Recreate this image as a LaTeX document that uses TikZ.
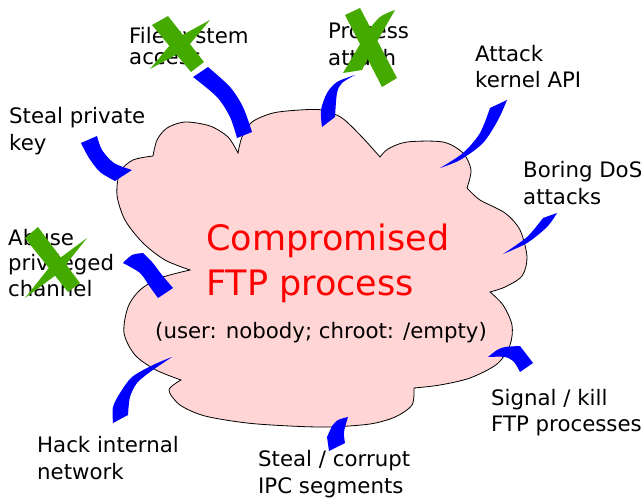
\documentclass[tikz,border=0pt]{standalone}
\usepackage{fontspec}
\setmainfont{DejaVu Sans}
\definecolor{cloudpink}{HTML}{FFD5D5}
\definecolor{crossgreen}{HTML}{44AA00}
\begin{document}
\begin{tikzpicture}[x=1pt,y=-1pt,
  % anchored at the baseline of the last line
  lbl/.style={anchor=base west, inner sep=0pt, align=left,
              font=\fontsize{21.3}{26.5}\selectfont},
  brush/.style={fill=blue},
  cross/.style={fill=crossgreen},
  cloudline/.style={draw=black, line width=0.8pt, fill=cloudpink}
]
\useasboundingbox (0,0) rectangle (644,498);

% the cloud: smooth lobes joined at cusps
\path[cloudline]
  plot[smooth] coordinates {(190,270) (165,260) (143,243) (125,220) (117,195) (120,172) (133,160) (153,156)}
  -- plot[smooth] coordinates {(153,156) (157,140) (167,128) (185,122) (210,126) (228,137) (238,153)}
  -- plot[smooth] coordinates {(238,153) (242,137) (252,122) (273,113) (300,110) (322,110) (342,118) (362,137) (380,157)}
  -- plot[smooth] coordinates {(380,157) (388,149) (407,142) (443,142) (463,153) (471,170) (467,188)}
  -- plot[smooth] coordinates {(467,188) (480,200) (505,213) (520,230) (527,257) (522,276) (505,287) (490,292)}
  -- plot[smooth] coordinates {(490,292) (503,305) (512,325) (510,345) (497,364) (470,378) (440,385) (414,388)}
  -- plot[smooth] coordinates {(414,388) (412,405) (395,417) (370,424) (329,427) (290,426) (247,423) (205,416) (180,405) (169,390) (181,380)}
  -- plot[smooth] coordinates {(181,380) (156,370) (135,355) (124,333) (128,307) (140,290) (160,278) (190,270)}
  -- cycle;

% brush strokes pointing at the cloud
\fill[brush] plot[smooth] coordinates {(97,136) (102,150) (114,163) (132,170)}
  -- plot[smooth] coordinates {(115,181) (100,172) (89,158) (81,143)} -- cycle;
\fill[brush] plot[smooth] coordinates {(208,67) (230,87) (243,107) (252,132)}
  -- plot[smooth] coordinates {(237,138) (230,117) (217,97) (193,77)} -- cycle;
\fill[brush] plot[smooth] coordinates {(355,75) (342,83) (337,93) (335,117)}
  -- plot[smooth] coordinates {(322,127) (321,110) (327,93) (337,82) (355,75)} -- cycle;
\fill[brush] plot[smooth] coordinates {(507,100) (498,120) (483,143) (460,160) (440,168)}
  -- plot[smooth] coordinates {(440,168) (463,153) (480,133) (490,108)} -- cycle;
\fill[brush] plot[smooth] coordinates {(557,213) (547,227) (527,243) (503,254)}
  -- plot[smooth] coordinates {(503,254) (527,237) (543,218)} -- cycle;
\fill[brush] plot[smooth] coordinates {(123,263) (132,255) (143,253)}
  -- plot[smooth] coordinates {(143,253) (152,262) (162,275) (173,288)}
  -- (158,298)
  -- plot[smooth] coordinates {(158,298) (150,287) (140,273) (123,263)} -- cycle;
\fill[brush] plot[smooth] coordinates {(172,357) (153,365) (132,377) (120,393) (113,407) (113,423)}
  -- (128,415)
  -- plot[smooth] coordinates {(128,415) (130,397) (137,383) (150,372) (172,357)} -- cycle;
\fill[brush] plot[smooth] coordinates {(348,417) (338,420) (332,426)}
  -- (327,437) -- (329,451) -- (345,443)
  -- plot[smooth] coordinates {(345,443) (344,432) (348,417)} -- cycle;
\fill[brush] plot[smooth] coordinates {(488,357) (497,350) (505,347) (520,346)}
  -- (533,363) -- (520,372)
  -- plot[smooth] coordinates {(520,372) (514,362) (505,357) (488,357)} -- cycle;

% labels
\node[lbl] (key) at (9,150) {Steal private\\key};
\node[lbl, font=\fontsize{21.3}{21}\selectfont] (fs) at (129,64) {File system\\access};
\node[lbl] (pa) at (328,65) {Process\\attach};
\node[lbl] (kern) at (475,87.5) {Attack\\kernel API};
\node[lbl] (dos) at (523,204) {Boring DoS\\attacks};
\node[lbl, font=\fontsize{21.3}{25.5}\selectfont] (abuse) at (8,296) {Abuse\\privileged\\channel};
\node[lbl] (hack) at (37,479) {Hack internal\\network};
\node[lbl] (ipc) at (258,493) {Steal / corrupt\\IPC segments};
\node[lbl] (sig) at (491,431.5) {Signal / kill\\FTP processes};
\node[lbl, text=red, font=\fontsize{35}{45}\selectfont] (title) at (206,295) {Compromised\\FTP process};
\node[lbl] (sub) at (155,338) {(user: nobody; chroot: /empty)};

% crosses over the blocked attacks
\fill[cross] (152,25) -- (168,16) -- (204,62) -- (191,72) -- cycle;
\fill[cross] (150,69) -- (175,39) -- (210,20) -- (185,50) -- cycle;
\fill[cross] (345,15) -- (360,8) -- (397,78) -- (382,87) -- cycle;
\fill[cross] plot[smooth] coordinates {(343,73) (367,33) (380,17) (395,10)}
  -- plot[smooth] coordinates {(395,10) (378,40) (362,70)} -- cycle;
\fill[cross] (25,238) -- (38,227) -- (80,283) -- (68,292) -- cycle;
\fill[cross] (25,298) -- (52,264) -- (87,238) -- (60,272) -- cycle;
\end{tikzpicture}
\end{document}
